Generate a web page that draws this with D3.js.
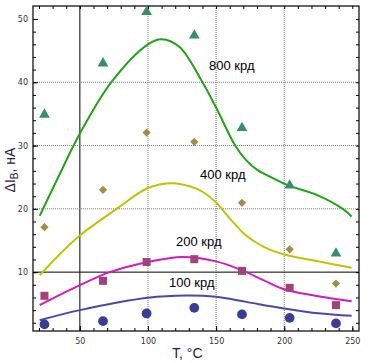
<!DOCTYPE html>
<html>
<head>
<meta charset="utf-8">
<script src="https://cdn.jsdelivr.net/npm/d3@7"></script>
<style>
  body { margin: 0; background: #fff; }
</style>
</head>
<body>
<div class="chart"></div>
<script>
// measured points (T, °C)
var temps = [24, 67, 99, 134, 169, 204, 238]
var pts800 = [34.9, 43.0, 51.1, 47.4, 32.8, 23.7, 12.95]
var pts400 = [17.1, 23.0, 32.05, 30.6, 20.95, 13.6, 8.2]
var pts200 = [6.26, 8.63, 11.6, 12.05, 10.2, 7.52, 4.79]
var pts100 = [1.74, 2.26, 3.47, 4.36, 3.32, 2.78, 1.9]

// fitted curves
var fit800T = [20.5, 33, 50, 73, 100, 110, 123, 140, 150, 164, 172, 180, 194, 203, 225, 243, 249.5]
var fit800V = [18.9, 24.5, 31.9, 40, 46.0, 46.8, 45.6, 40, 36, 30, 27.7, 26.2, 24.6, 23.7, 22.1, 20, 18.8]
var fit400T = [20.5, 35, 50, 77, 100, 118, 130, 140, 150, 160, 172, 185, 200, 225, 249.5]
var fit400V = [9.5, 12.8, 15.8, 20, 23.3, 24.05, 23.6, 22.7, 21.0, 18.5, 15.8, 14.0, 12.8, 11.7, 10.7]
var fit200T = [20.5, 50, 72, 100, 125, 150, 170, 185, 200, 225, 249.5]
var fit200V = [4.8, 7.95, 10, 11.6, 12.4, 11.7, 10.2, 8.7, 7.3, 6.2, 5.4]
var fit100T = [20.5, 50, 100, 128, 150, 172, 200, 225, 249.5]
var fit100V = [2.4, 4.0, 5.95, 6.3, 6.1, 5.3, 4.27, 3.5, 3.1]

var labels = ["800 крд", "400 крд", "200 крд", "100 крд"]
var xTicks = [50, 100, 150, 200, 250]
var yTicks = [10, 20, 30, 40, 50]

var width = 378, height = 363
var mLeft = 33, mRight = 359, mTop = 6, mBottom = 331

var svg = d3.select(".chart")
    .append("svg")
    .attr("width", width)
    .attr("height", height)

var x = d3.scaleLinear().domain([15.6, 254.9]).range([mLeft, mRight])
var y = d3.scaleLinear().domain([0.7, 52.05]).range([mBottom, mTop])

// grid
xTicks.forEach(function (t) {
    if (t == 250) return
    svg.append("line")
        .attr("x1", x(t)).attr("x2", x(t))
        .attr("y1", mTop).attr("y2", mBottom)
        .style("stroke", t == 50 ? "#000" : "#777")
        .style("stroke-width", 1)
        .style("stroke-dasharray", t == 50 ? null : "1,1")
})
yTicks.forEach(function (t) {
    if (t == 50) return
    svg.append("line")
        .attr("x1", mLeft).attr("x2", mRight)
        .attr("y1", y(t)).attr("y2", y(t))
        .style("stroke", t == 10 ? "#000" : "#777")
        .style("stroke-width", 1)
        .style("stroke-dasharray", t == 10 ? null : "1,1")
})

// frame
svg.append("rect")
    .attr("x", mLeft).attr("y", mTop)
    .attr("width", mRight - mLeft).attr("height", mBottom - mTop)
    .style("fill", "none")
    .style("stroke", "#000")
    .style("stroke-width", 1.2)

// inward ticks, all four sides
var xAxisB = d3.axisBottom(x).tickValues(d3.range(20, 251, 10)).tickSize(-3).tickFormat("")
var xAxisT = d3.axisTop(x).tickValues(d3.range(20, 251, 10)).tickSize(-3).tickFormat("")
var yAxisL = d3.axisLeft(y).tickValues(d3.range(2, 52, 2)).tickSize(-3).tickFormat("")
var yAxisR = d3.axisRight(y).tickValues(d3.range(2, 52, 2)).tickSize(-3).tickFormat("")

function tickStyle(g) {
    g.select(".domain").remove()
    g.selectAll(".tick line").style("stroke", "#000")
}
svg.append("g").attr("transform", "translate(0," + mBottom + ")").call(xAxisB).call(tickStyle)
svg.append("g").attr("transform", "translate(0," + mTop + ")").call(xAxisT).call(tickStyle)
svg.append("g").attr("transform", "translate(" + mLeft + ",0)").call(yAxisL).call(tickStyle)
svg.append("g").attr("transform", "translate(" + mRight + ",0)").call(yAxisR).call(tickStyle)

// major tick labels
svg.append("g").attr("transform", "translate(0," + mBottom + ")")
    .call(d3.axisBottom(x).tickValues(xTicks).tickSize(-5).tickPadding(7))
    .call(function (g) {
        g.select(".domain").remove()
        g.selectAll(".tick line").style("stroke", "#000")
        g.selectAll("text").style("font-size", "8px")
            .attr("font-family", "DejaVu Sans").attr("fill", "#333")
    })
svg.append("g").attr("transform", "translate(" + mLeft + ",0)")
    .call(d3.axisLeft(y).tickValues(yTicks).tickSize(-5).tickPadding(5))
    .call(function (g) {
        g.select(".domain").remove()
        g.selectAll(".tick line").style("stroke", "#000")
        g.selectAll("text").style("font-size", "8px")
            .attr("font-family", "DejaVu Sans").attr("fill", "#333")
    })

// curves
var line = d3.line()
    .x(function (d) { return x(d[0]) })
    .y(function (d) { return y(d[1]) })
    .curve(d3.curveCatmullRom.alpha(0.5))

var fits = [
    [fit100T, fit100V, "#4b49a6"],
    [fit200T, fit200V, "#d61ab8"],
    [fit400T, fit400V, "#c2c200"],
    [fit800T, fit800V, "#1ea514"]
]
fits.forEach(function (f) {
    svg.append("path")
        .datum(d3.zip(f[0], f[1]))
        .attr("d", line)
        .style("fill", "none")
        .style("stroke", f[2])
        .style("stroke-width", 2)
})

// markers
var sym = [
    [pts800, d3.symbolTriangle, 50, "#35906a", 0],
    [pts400, d3.symbolSquare, 34, "#a58c45", 45],
    [pts200, d3.symbolSquare, 64, "#a5407a", 0],
    [pts100, d3.symbolCircle, 75, "#3b3b99", 0]
]
sym.forEach(function (s) {
    svg.selectAll(null)
        .data(d3.zip(temps, s[0]))
        .enter()
        .append("path")
        .attr("d", d3.symbol().type(s[1]).size(s[2]))
        .attr("transform", function (d) {
            return "translate(" + x(d[0]) + "," + y(d[1]) + ") rotate(" + s[4] + ")"
        })
        .style("fill", s[3])
})

// curve labels
var labelPos = [[209, 70], [200, 179], [176, 246], [169, 287]]
labels.forEach(function (t, i) {
    svg.append("text")
        .attr("x", labelPos[i][0])
        .attr("y", labelPos[i][1])
        .text(t)
        .style("font-size", "13px")
        .attr("font-family", "Liberation Sans")
        .attr("fill", "#000")
})

// axis titles
svg.append("text")
    .attr("x", 172)
    .attr("y", 358)
    .text("T, °C")
    .style("font-size", "14px")
    .attr("font-family", "Liberation Sans")
    .attr("fill", "#22224a")

var yt = svg.append("text")
    .attr("transform", "translate(15,170) rotate(-90)")
    .attr("text-anchor", "middle")
    .style("font-size", "14px")
    .attr("font-family", "Liberation Sans")
    .attr("fill", "#22224a")
yt.append("tspan").text("ΔI")
yt.append("tspan").text("B").style("font-size", "10px").attr("dy", 3)
yt.append("tspan").text(", нА").attr("dy", -3)
</script>
</body>
</html>
